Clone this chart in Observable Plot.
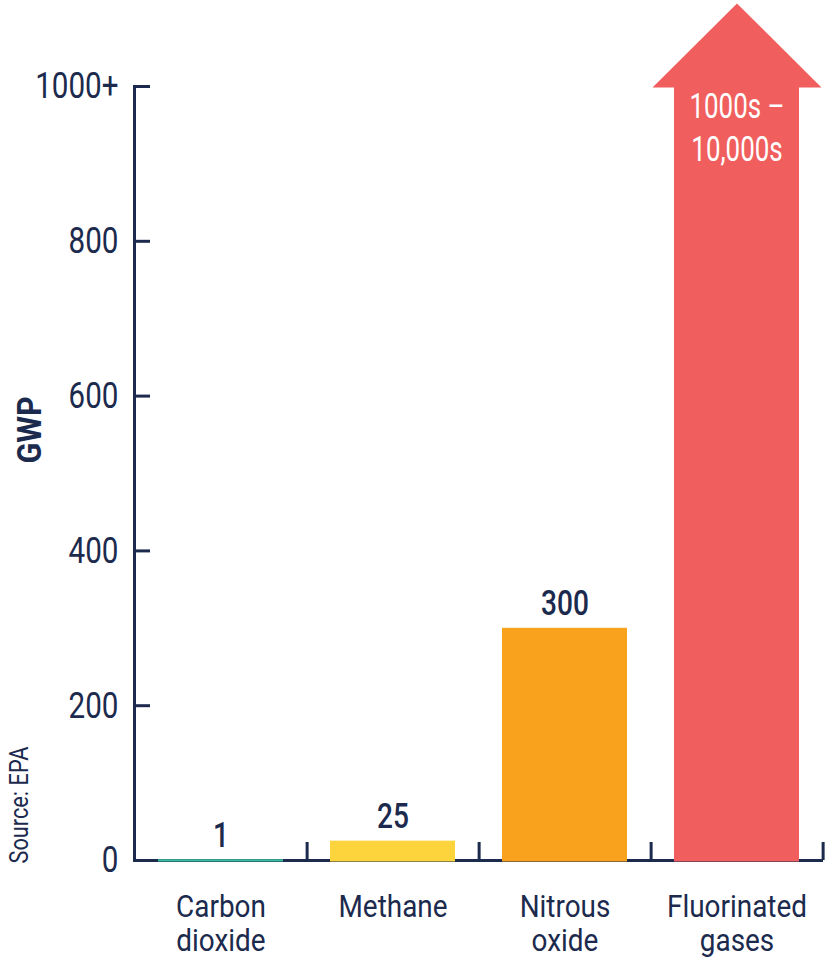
<!DOCTYPE html>
<html><head><meta charset="utf-8">
<script src="https://cdn.jsdelivr.net/npm/d3@7"></script>
<script src="https://cdn.jsdelivr.net/npm/@observablehq/plot@0.6"></script>
<style>
html,body{margin:0;padding:0;background:#fff;overflow:hidden;}
#chart svg{display:block;}
</style></head><body><div id="chart"></div>
<script>
// ---- data ----
const categories = ["Carbon dioxide", "Methane", "Nitrous oxide", "Fluorinated gases"];
const categoryLabels = ["Carbon\ndioxide", "Methane", "Nitrous\noxide", "Fluorinated\ngases"];
const gwp = [1, 25, 300, 1000]; // fluorinated gases capped at the "1000+" top of the axis
const openEnded = [false, false, false, true];
const valueLabels = ["1", "25", "300", "1000s –\n10,000s"];
const colors = ["#3cbe9e", "#fdd43b", "#f8a21e", "#f05f5e"];
const yTicks = [0, 200, 400, 600, 800, 1000];
const yTickLabels = ["0", "200", "400", "600", "800", "1000+"];
const yTitle = "GWP";
const sourceNote = "Source: EPA";

// ---- layout / style ----
const navy = "#1b2a4d";
const W = 826, H = 966;
const mL = 134, mR = 3, mT = 86, mB = 106;
const step = (W - mL - mR) / categories.length;
const font = "Roboto, 'DejaVu Sans Condensed', sans-serif";

const rows = categories.map((c, i) => ({
  category: c, value: gwp[i], label: valueLabels[i], open: openEnded[i]
}));

const arrowHead = {
  draw(ctx) {
    ctx.moveTo(-84.5, 1);
    ctx.lineTo(0, -83);
    ctx.lineTo(84.5, 1);
    ctx.closePath();
  }
};

const chart = Plot.plot({
  width: W, height: H,
  marginLeft: mL, marginRight: mR, marginTop: mT, marginBottom: mB,
  style: {fontFamily: font, color: navy, background: "#fff", overflow: "visible"},
  x: {domain: categories, paddingInner: 0.275, paddingOuter: 0.1375},
  y: {domain: [0, 1000]},
  color: {domain: categories, range: colors},
  marks: [
    Plot.ruleY([0], {stroke: navy, strokeWidth: 3}),
    Plot.frame({anchor: "left", stroke: navy, strokeWidth: 3}),
    Plot.axisY({
      ticks: yTicks,
      tickFormat: d => yTickLabels[yTicks.indexOf(d)],
      tickSize: -16, tickPadding: 32,
      strokeWidth: 3, stroke: navy,
      fontSize: 37, fontWeight: 400, label: null
    }),
    Plot.axisX({
      tickSize: 0, tickPadding: 33,
      tickFormat: d => categoryLabels[categories.indexOf(d)],
      fontSize: 31, fontWeight: 400, lineHeight: 1.08, label: null
    }),
    Plot.axisX({
      text: null, tickSize: -18, dx: step / 2,
      strokeWidth: 3, stroke: navy, label: null
    }),
    Plot.barY(rows, {x: "category", y: "value", fill: "category", insetBottom: -1.5}),
    Plot.dot(rows.filter(d => d.open), {
      x: "category", y: "value", symbol: arrowHead, fill: "category", stroke: null
    }),
    Plot.text(rows.filter(d => !d.open), {
      x: "category", y: "value", text: "label", ariaDescription: "value-label",
      lineAnchor: "bottom", dy: -13, fontSize: 36, fontWeight: 500, fill: navy
    }),
    Plot.text(rows.filter(d => d.open), {
      x: "category", y: "value", text: "label", ariaDescription: "open-label",
      lineAnchor: "top", dy: 1, fontSize: 36, fontWeight: 400, lineHeight: 1.2, fill: "#fff"
    }),
    Plot.text([yTitle], {
      frameAnchor: "left", rotate: -90, dx: -104, dy: -10, ariaDescription: "y-title",
      fontSize: 34, fontWeight: "bold", fill: navy
    }),
    Plot.text([sourceNote], {
      frameAnchor: "bottom-left", rotate: -90, textAnchor: "start", ariaDescription: "source",
      dx: -107, dy: 3, fontSize: 25, fontWeight: 400, fill: navy
    })
  ]
});

// condensed look: squeeze glyphs horizontally (along the baseline)
const squeeze = [
  ['g[aria-label="y-axis tick label"] text', 0.8],
  ['g[aria-label="x-axis tick label"] text', 0.9],
  ['g[aria-description="value-label"] text', 0.78],
  ['g[aria-description="open-label"] text', 0.72],
  ['g[aria-description="y-title"] text', 0.9],
  ['g[aria-description="source"] text', 0.87]
];
for (const [sel, s] of squeeze) {
  chart.querySelectorAll(sel).forEach(t => {
    const tr = t.getAttribute("transform");
    if (tr) t.setAttribute("transform", `${tr} scale(${s},1)`);
    else {
      const x = +t.getAttribute("x") || 0, y = +t.getAttribute("y") || 0;
      t.removeAttribute("x"); t.removeAttribute("y");
      t.setAttribute("transform", `translate(${x},${y}) scale(${s},1)`);
    }
  });
}
document.getElementById("chart").appendChild(chart);
</script>
</body></html>
